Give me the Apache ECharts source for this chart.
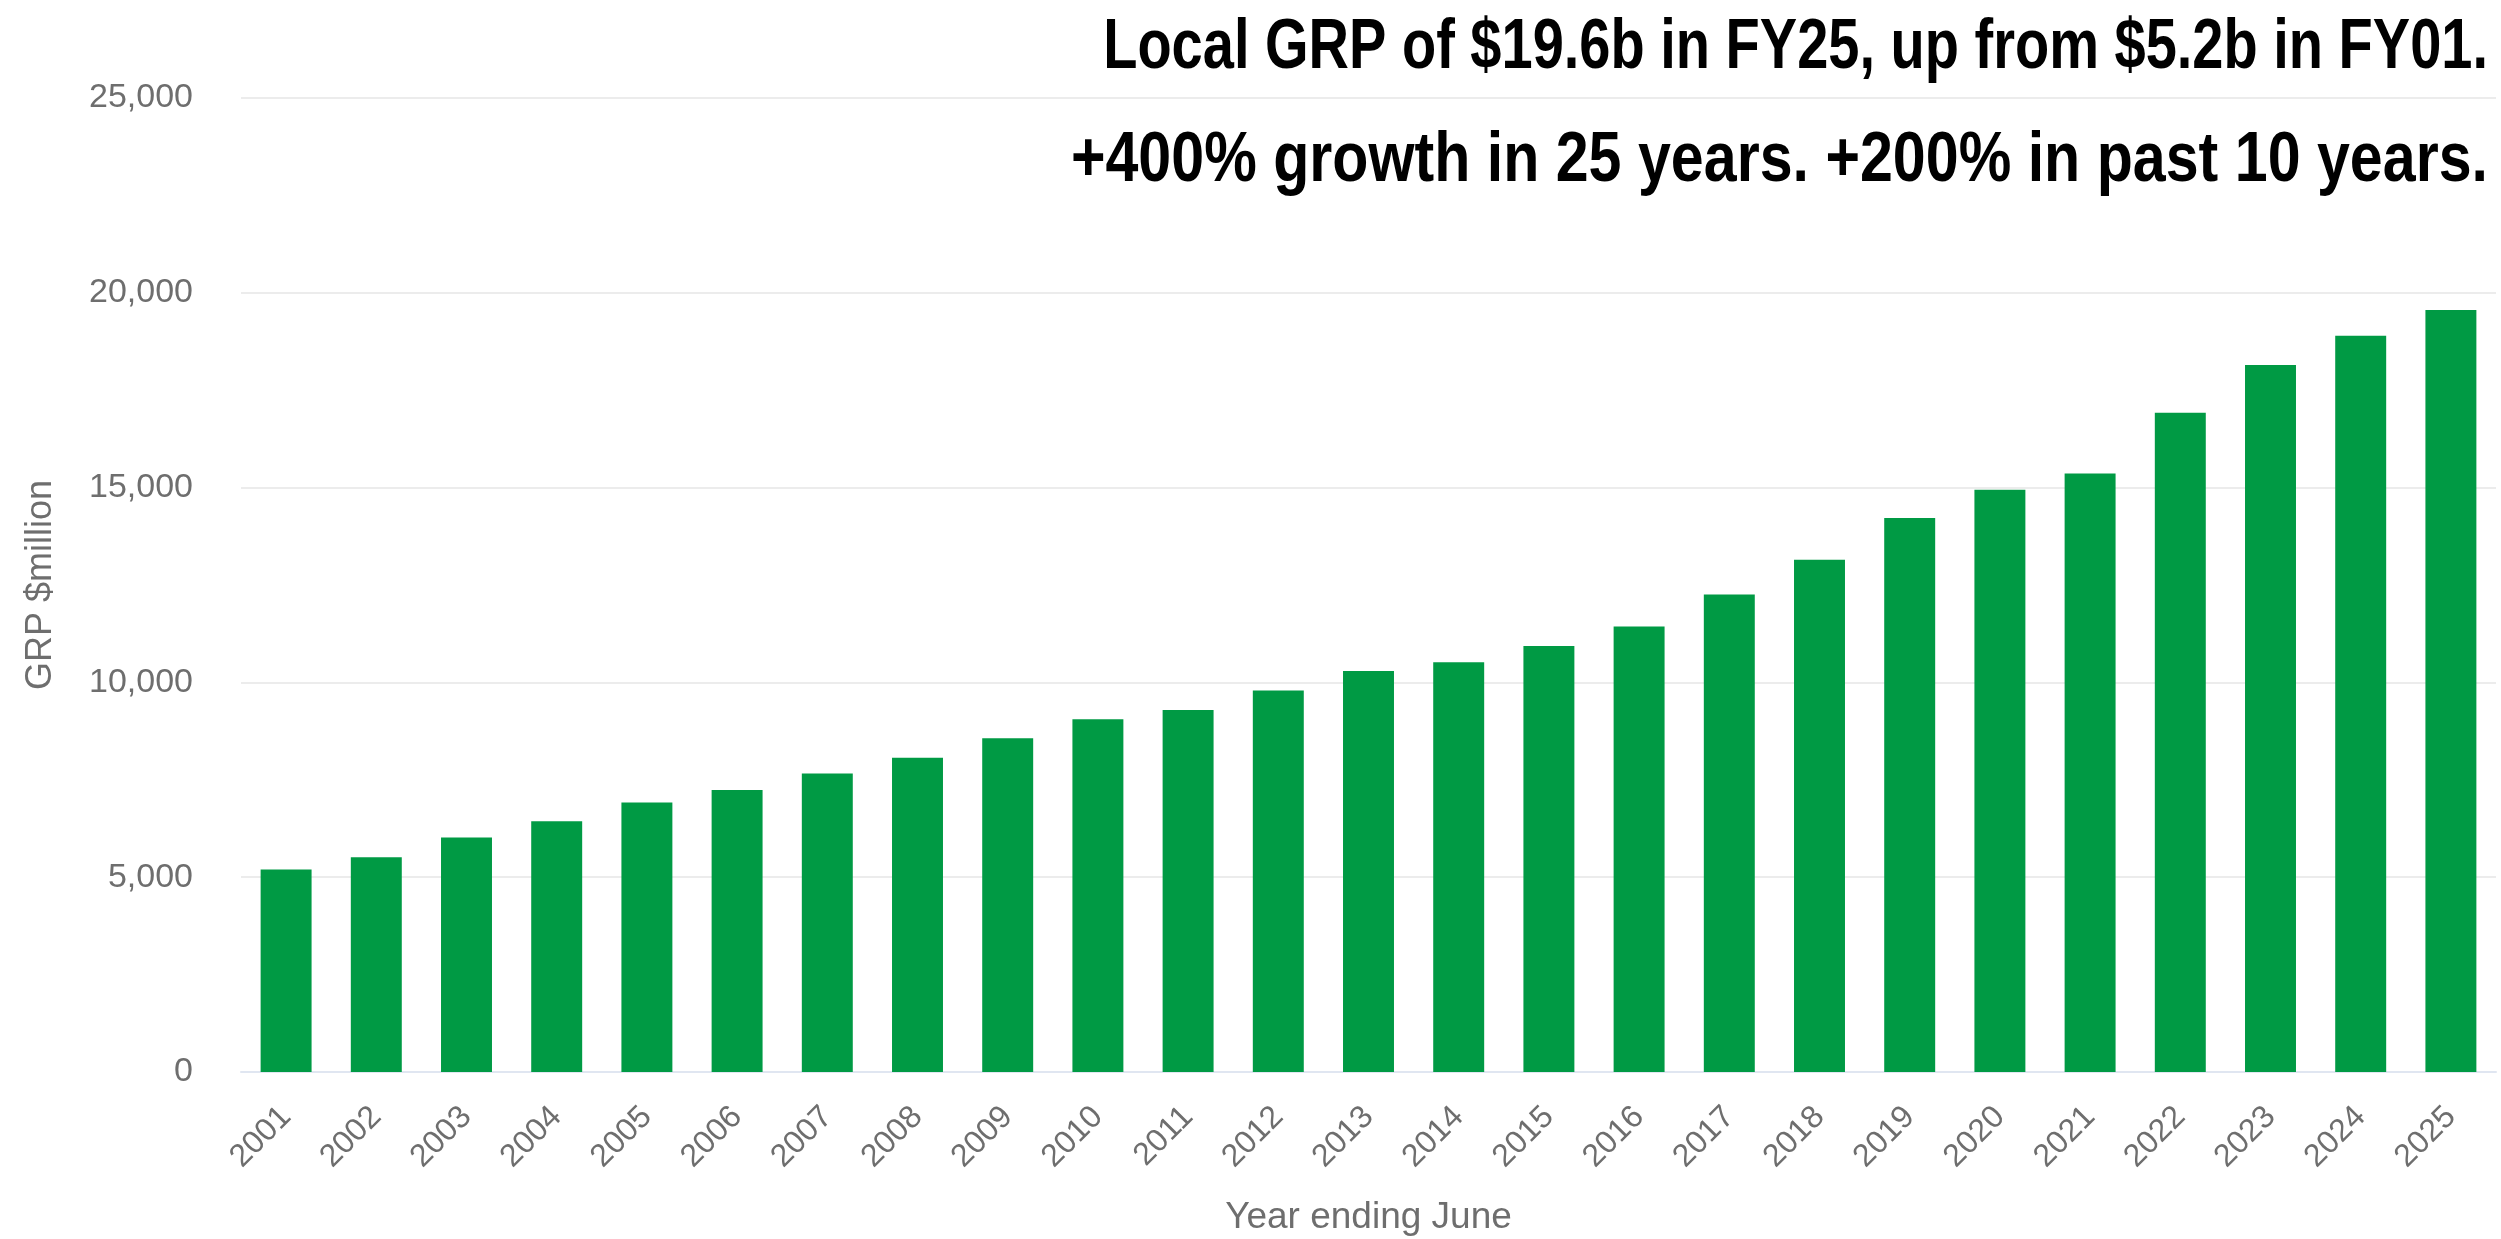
<!DOCTYPE html>
<html>
<head>
<meta charset="utf-8">
<title>Local GRP</title>
<script src="https://cdn.jsdelivr.net/npm/echarts@6/dist/echarts.min.js"></script>
<style>
  html, body { margin: 0; padding: 0; background: #fff; }
  #grpchart { width: 2501px; height: 1239px; }
</style>
</head>
<body>
<div id="grpchart"></div>
<script>
// year ending June
const years = ['2001', '2002', '2003', '2004', '2005', '2006', '2007', '2008', '2009', '2010',
  '2011', '2012', '2013', '2014', '2015', '2016', '2017', '2018', '2019', '2020',
  '2021', '2022', '2023', '2024', '2025']
// GRP $million
const grp = [5200, 5515, 6020, 6435, 6920, 7240, 7660, 8065, 8565, 9055,
  9290, 9790, 10290, 10515, 10935, 11435, 12255, 13150, 14220, 14945,
  15360, 16920, 18150, 18900, 19560]
const titleLines = [
  'Local GRP of $19.6b in FY25, up from $5.2b in FY01.',
  '+400% growth in 25 years. +200% in past 10 years.'
]

const chart = echarts.init(document.getElementById('grpchart'))
const option = {
  animation: false,
  grid: {
    left: 241,
    right: 5,
    top: 98,
    bottom: 167,
    outerBoundsMode: 'none'
  },
  graphic: [
    {
      type: 'text',
      x: 2488,
      y: 49,
      scaleX: 0.8,
      style: {
        text: titleLines[0],
        font: 'bold 70px "Liberation Sans", Arial, sans-serif',
        fill: '#000',
        textAlign: 'right',
        textVerticalAlign: 'middle'
      }
    },
    {
      type: 'text',
      x: 2488,
      y: 162,
      scaleX: 0.845,
      style: {
        text: titleLines[1],
        font: 'bold 70px "Liberation Sans", Arial, sans-serif',
        fill: '#000',
        textAlign: 'right',
        textVerticalAlign: 'middle'
      }
    }
  ],
  xAxis: {
    type: 'category',
    data: years,
    name: 'Year ending June',
    nameLocation: 'middle',
    nameGap: 127,
    nameTextStyle: {
      color: '#6e6e6e',
      fontSize: 37,
      fontFamily: '"Liberation Sans", Arial, sans-serif'
    },
    axisTick: { show: false },
    axisLine: { lineStyle: { color: '#e0e6f1', width: 2 } },
    axisLabel: {
      interval: 0,
      rotate: 45,
      margin: 40,
      color: '#6e6e6e',
      fontSize: 32,
      fontFamily: '"Liberation Sans", Arial, sans-serif'
    }
  },
  yAxis: {
    type: 'value',
    min: 0,
    max: 25000,
    interval: 5000,
    name: 'GRP $million',
    nameLocation: 'middle',
    nameRotate: 90,
    nameGap: 182,
    nameTextStyle: {
      color: '#6e6e6e',
      fontSize: 36,
      fontFamily: '"Liberation Sans", Arial, sans-serif'
    },
    axisLabel: {
      margin: 48,
      color: '#6e6e6e',
      fontSize: 34,
      fontFamily: '"Liberation Sans", Arial, sans-serif',
      formatter: v => v.toLocaleString('en-US')
    },
    splitLine: { lineStyle: { color: '#ececec', width: 2 } }
  },
  series: [
    {
      name: 'GRP',
      type: 'bar',
      data: grp,
      barCategoryGap: '43.5%',
      itemStyle: { color: '#009a44' }
    }
  ]
}
chart.setOption(option)
</script>
</body>
</html>
